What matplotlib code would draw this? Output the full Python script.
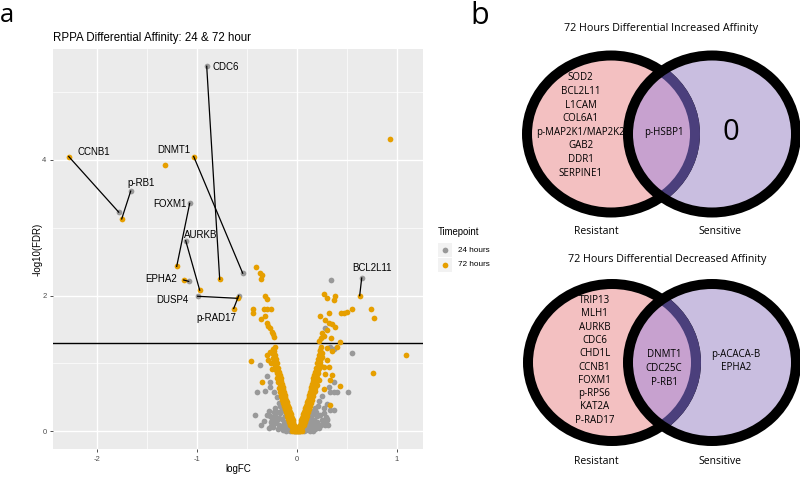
import matplotlib
matplotlib.use("Agg")
import matplotlib.pyplot as plt
from matplotlib.patches import Ellipse, Rectangle
import numpy as np

# ---------------- data: volcano ----------------
genes = ["CDC6", "CCNB1", "p-RB1", "DNMT1", "FOXM1", "AURKB", "EPHA2", "DUSP4", "p-RAD17", "BCL2L11"]
x24_lab = [-0.90, -1.78, -1.66, -0.54, -1.07, -1.11, -1.08, -0.99, -0.58, 0.65]
y24_lab = [5.38, 3.23, 3.54, 2.33, 3.36, 2.81, 2.21, 1.99, 2.00, 2.26]
x72_lab = [-0.77, -2.28, -1.75, -1.03, -1.20, -0.97, -1.13, -0.59, -0.63, 0.63]
y72_lab = [2.24, 4.05, 3.13, 4.05, 2.43, 2.08, 2.23, 1.96, 1.81, 2.00]
label_on = ["24", "72", "24", "72", "24", "24", "72", "24", "72", "24"]

# 24 hours, unlabelled proteins (logFC, -log10 FDR)
grey_sig = [(0.34, 2.23), (0.28, 1.52)]
grey_mid = [(-0.37, 0.98), (-0.40, 0.58), (-0.32, 0.60), (-0.27, 0.66), (-0.23, 0.58), (-0.30, 0.81),
            (-0.27, 0.73), (-0.20, 0.50), (-0.18, 0.42), (-0.22, 0.35), (0.51, 0.58), (0.33, 0.58),
            (0.37, 0.58), (0.40, 0.58), (0.55, 1.16), (0.37, 1.22), (0.32, 0.66), (0.37, 0.73),
            (0.30, 0.40), (0.27, 0.35), (0.22, 0.45), (0.25, 0.52), (0.30, 0.16), (0.33, 1.25)]
grey_bulk = [(-0.42, 0.24), (-0.30, 0.24), (-0.27, 0.22), (-0.25, 0.16), (-0.20, 0.29), (-0.17, 0.27),
             (-0.22, 0.12), (-0.18, 0.10), (-0.15, 0.18), (-0.13, 0.12), (-0.12, 0.22), (-0.10, 0.08),
             (-0.09, 0.15), (-0.08, 0.04), (-0.06, 0.10), (-0.05, 0.02), (-0.04, 0.06), (-0.03, 0.01),
             (-0.02, 0.03), (-0.01, 0.00), (0.00, 0.02), (0.01, 0.00), (0.02, 0.04), (0.03, 0.01),
             (0.04, 0.07), (0.05, 0.03), (0.06, 0.11), (0.07, 0.05), (0.08, 0.15), (0.09, 0.02),
             (0.10, 0.09), (0.11, 0.19), (0.12, 0.05), (0.13, 0.13), (0.14, 0.22), (0.15, 0.08),
             (0.17, 0.17), (0.18, 0.03), (0.19, 0.11), (0.21, 0.06), (0.23, 0.24), (0.27, 0.27),
             (0.30, 0.18), (0.33, 0.31), (0.37, 0.31), (-0.14, 0.02), (-0.11, 0.01), (-0.16, 0.06),
             (-0.19, 0.03), (0.16, 0.01), (0.13, 0.00), (-0.07, 0.00), (0.07, 0.00), (-0.20, 0.16),
             (0.20, 0.14), (-0.24, 0.06), (0.24, 0.09), (-0.12, 0.30), (0.10, 0.30), (-0.06, 0.20),
             (0.05, 0.18), (-0.26, 0.08), (-0.21, 0.20), (0.26, 0.12), (0.29, 0.21), (-0.28, 0.30),
             (0.31, 0.10), (-0.28, 0.05), (-0.26, 0.14), (-0.22, 0.22), (-0.16, 0.30), (-0.13, 0.05),
             (-0.11, 0.14), (-0.09, 0.25), (0.09, 0.25), (0.12, 0.28), (0.15, 0.15), (0.17, 0.25),
             (0.20, 0.22), (0.22, 0.05), (0.25, 0.16), (0.28, 0.09), (-0.33, 0.15), (-0.36, 0.10),
             (0.18, 0.35), (0.21, 0.38), (-0.17, 0.38), (-0.14, 0.35), (-0.08, 0.20), (0.08, 0.20),
             (-0.18, 0.20), (0.16, 0.30), (-0.23, 0.28), (0.19, 0.28)]

# 72 hours, unlabelled proteins
orange_far = [(-1.32, 3.93), (0.93, 4.31), (1.09, 1.125), (0.76, 0.855)]
orange_sig_left = [(-0.41, 2.42), (-0.37, 2.33), (-0.35, 2.31), (-0.36, 2.24), (-0.32, 2.00), (-0.30, 1.95),
                   (-0.44, 1.80), (-0.44, 1.74), (-0.33, 1.80), (-0.30, 1.80), (-0.26, 1.80), (-0.32, 1.70),
                   (-0.36, 1.65), (-0.30, 1.59), (-0.27, 1.52), (-0.25, 1.47), (-0.23, 1.39), (-0.29, 1.55),
                   (-0.24, 1.43)]
orange_sig_right = [(0.27, 2.03), (0.30, 1.96), (0.38, 2.00), (0.37, 1.93), (0.23, 1.70), (0.32, 1.74),
                    (0.28, 1.64), (0.32, 1.60), (0.35, 1.58), (0.38, 1.54), (0.27, 1.40), (0.34, 1.37),
                    (0.43, 1.32), (0.44, 1.74), (0.47, 1.74), (0.50, 1.76), (0.55, 1.80), (0.74, 1.80),
                    (0.77, 1.67), (0.25, 1.45), (0.30, 1.50), (0.22, 1.33), (0.24, 1.38)]
orange_scatter = [(-0.46, 1.03), (-0.35, 0.72), (-0.30, 1.12), (-0.27, 1.17), (-0.24, 1.21), (-0.22, 1.24),
                  (-0.29, 1.05), (-0.26, 1.00), (-0.25, 0.92), (0.23, 1.20), (0.25, 1.10), (0.24, 0.97),
                  (0.27, 0.95), (0.32, 0.95), (0.43, 0.67), (0.33, 0.39), (0.30, 1.23), (0.35, 1.18),
                  (0.40, 1.25), (0.28, 0.85), (0.35, 0.83), (0.33, 0.75), (0.30, 1.05), (0.27, 0.62)]
orange_left_arm = [(-0.01, 0.01), (-0.02, 0.04), (-0.02, 0.07), (-0.03, 0.10), (-0.04, 0.13), (-0.04, 0.16),
                   (-0.05, 0.19), (-0.06, 0.22), (-0.06, 0.25), (-0.07, 0.28), (-0.08, 0.31), (-0.08, 0.34),
                   (-0.09, 0.37), (-0.10, 0.40), (-0.10, 0.43), (-0.11, 0.46), (-0.12, 0.50), (-0.12, 0.54),
                   (-0.13, 0.58), (-0.14, 0.62), (-0.14, 0.66), (-0.15, 0.70), (-0.16, 0.74), (-0.16, 0.78),
                   (-0.17, 0.83), (-0.18, 0.88), (-0.19, 0.94), (-0.20, 1.00), (-0.21, 1.06), (-0.22, 1.12),
                   (-0.23, 1.18), (-0.05, 0.12), (-0.07, 0.18), (-0.09, 0.26), (-0.11, 0.33), (-0.12, 0.40),
                   (-0.14, 0.48), (-0.15, 0.55), (-0.16, 0.63), (-0.17, 0.70), (-0.19, 0.80), (-0.21, 0.90),
                   (-0.22, 0.98), (-0.24, 1.08), (-0.03, 0.05), (-0.06, 0.15), (-0.08, 0.22),
                   (-0.02, 0.00), (-0.04, 0.03), (-0.05, 0.06), (-0.07, 0.10), (-0.08, 0.14), (-0.09, 0.18),
                   (-0.10, 0.23), (-0.11, 0.28), (-0.12, 0.33), (-0.13, 0.37), (-0.14, 0.42), (-0.15, 0.46),
                   (-0.16, 0.52), (-0.17, 0.58), (-0.18, 0.64), (-0.19, 0.72), (-0.20, 0.78), (-0.20, 0.86),
                   (-0.22, 0.94), (-0.23, 1.02), (-0.25, 1.15)]
orange_right_arm = [(0.01, 0.01), (0.02, 0.04), (0.02, 0.07), (0.03, 0.10), (0.04, 0.13), (0.04, 0.16),
                    (0.05, 0.19), (0.06, 0.22), (0.06, 0.25), (0.07, 0.28), (0.08, 0.31), (0.08, 0.34),
                    (0.09, 0.37), (0.10, 0.40), (0.10, 0.43), (0.11, 0.46), (0.12, 0.50), (0.12, 0.54),
                    (0.13, 0.58), (0.14, 0.62), (0.14, 0.66), (0.15, 0.70), (0.16, 0.74), (0.16, 0.78),
                    (0.17, 0.83), (0.18, 0.88), (0.19, 0.94), (0.20, 1.00), (0.21, 1.06), (0.22, 1.12),
                    (0.23, 1.18), (0.24, 1.24), (0.05, 0.12), (0.07, 0.18), (0.09, 0.26), (0.11, 0.33),
                    (0.12, 0.40), (0.14, 0.48), (0.15, 0.55), (0.16, 0.63), (0.18, 0.70), (0.19, 0.80),
                    (0.21, 0.90), (0.22, 0.98), (0.24, 1.08), (0.03, 0.05), (0.06, 0.15), (0.08, 0.22),
                    (0.13, 0.44), (0.17, 0.66), (0.20, 0.85),
                    (0.02, 0.00), (0.04, 0.03), (0.05, 0.06), (0.07, 0.10), (0.08, 0.14), (0.09, 0.18),
                    (0.10, 0.23), (0.11, 0.28), (0.12, 0.33), (0.13, 0.37), (0.14, 0.42), (0.15, 0.46),
                    (0.16, 0.52), (0.17, 0.58), (0.18, 0.64), (0.19, 0.72), (0.20, 0.78), (0.21, 0.86),
                    (0.22, 0.94), (0.23, 1.02), (0.25, 1.15), (0.18, 0.60), (0.20, 0.68), (0.22, 0.76)]
orange_bottom = [(0.00, 0.00), (-0.03, 0.00), (0.03, 0.00), (-0.05, 0.01), (0.05, 0.01), (0.00, 0.03),
                 (-0.01, 0.06), (0.01, 0.06)]

fdr_threshold = 0.05
x_ticks = [-2, -1, 0, 1]
y_ticks = [0, 2, 4]
series_names = ["24 hours", "72 hours"]
series_colors = ["#999999", "#E69F00"]

# ---------------- data: venn ----------------
venn_titles = ["72 Hours Differential Increased Affinity", "72 Hours Differential Decreased Affinity"]
up_resistant = ["SOD2", "BCL2L11", "L1CAM", "COL6A1", "p-MAP2K1/MAP2K2", "GAB2", "DDR1", "SERPINE1"]
up_both = ["p-HSBP1"]
up_sensitive_count = "0"
down_resistant = ["TRIP13", "MLH1", "AURKB", "CDC6", "CHD1L", "CCNB1", "FOXM1", "p-RPS6", "KAT2A", "P-RAD17"]
down_both = ["DNMT1", "CDC25C", "P-RB1"]
down_sensitive = ["p-ACACA-B", "EPHA2"]
set_names = ["Resistant", "Sensitive"]

# ---------------- figure ----------------
W, H = 800, 479
fig = plt.figure(figsize=(W / 100, H / 100), dpi=100)
fig.patch.set_facecolor("white")
plt.rcParams["font.family"] = ["Liberation Sans", "DejaVu Sans"]

def px_rect(l, t, r, b):
    return [l / W, 1 - b / H, (r - l) / W, (b - t) / H]

ax = fig.add_axes(px_rect(52.7, 49.3, 423.3, 449.3))
ax.set_facecolor("#EBEBEB")
for s in ax.spines.values():
    s.set_visible(False)
ax.set_xlim(-2.44, 1.266)
ax.set_ylim(-0.265, 5.63)
ax.set_xticks(x_ticks)
ax.set_yticks(y_ticks)
ax.set_xticklabels([str(t) for t in x_ticks])
ax.set_yticklabels([str(t) for t in y_ticks])
ax.set_xticks([-1.5, -0.5, 0.5], minor=True)
ax.set_yticks([1, 3, 5], minor=True)
ax.grid(which="major", color="white", lw=1.0)
ax.grid(which="minor", color="white", lw=0.5)
ax.set_axisbelow(True)
ax.tick_params(which="major", length=2.5, width=0.6, color="#333333", labelsize=5.5,
               labelcolor="#4D4D4D", pad=2)
ax.tick_params(which="minor", length=0)
ax.set_xlabel("logFC", fontsize=7, labelpad=1)
ax.set_ylabel("-log10(FDR)", fontsize=7, labelpad=0)

ax.axhline(-np.log10(fdr_threshold), color="black", lw=1.0, zorder=2)

ms = 17
def pts(groups):
    arr = np.array([p for g in groups for p in g])
    return arr[:, 0], arr[:, 1]

gx, gy = pts([grey_sig, grey_mid, grey_bulk])
ox, oy = pts([orange_far, orange_sig_left, orange_sig_right, orange_scatter,
              orange_left_arm, orange_right_arm, orange_bottom])
ax.scatter(gx, gy, s=ms, color=series_colors[0], lw=0, zorder=3)
ax.scatter(ox, oy, s=ms, color=series_colors[1], lw=0, zorder=3)
ax.scatter(x24_lab, y24_lab, s=ms, color=series_colors[0], lw=0, zorder=3)
ax.scatter(x72_lab, y72_lab, s=ms, color=series_colors[1], lw=0, zorder=3)
for i in range(len(genes)):
    ax.plot([x24_lab[i], x72_lab[i]], [y24_lab[i], y72_lab[i]], color="black", lw=0.9, zorder=4)

label_offsets = {
    "CDC6": (0.06, -0.01), "CCNB1": (0.09, 0.07), "p-RB1": (-0.03, 0.12),
    "DNMT1": (-0.36, 0.09), "FOXM1": (-0.36, -0.01), "AURKB": (-0.02, 0.09),
    "EPHA2": (-0.38, 0.02), "DUSP4": (-0.41, -0.06), "p-RAD17": (-0.37, -0.14),
    "BCL2L11": (-0.09, 0.14),
}
for i, g in enumerate(genes):
    px_, py_ = (x24_lab[i], y24_lab[i]) if label_on[i] == "24" else (x72_lab[i], y72_lab[i])
    dx, dy = label_offsets[g]
    ax.text(px_ + dx, py_ + dy, g, fontsize=7, ha="left", va="center", zorder=5)

# overlay axis in pixel coordinates
lax = fig.add_axes([0, 0, 1, 1], facecolor="none")
lax.set_xlim(0, W)
lax.set_ylim(H, 0)
lax.axis("off")

lax.text(53, 37.7, "RPPA Differential Affinity: 24 & 72 hour", fontsize=8.3, ha="left", va="center")

# legend
lax.text(438, 232, "Timepoint", fontsize=6.9, ha="left", va="center")
for k, (nm, col) in enumerate(zip(series_names, series_colors)):
    yy = 250 + k * 14.7
    lax.add_patch(Rectangle((438, yy - 7), 14, 14, facecolor="#F2F2F2", edgecolor="none", zorder=1))
    lax.scatter([445], [yy], s=ms, color=col, lw=0, zorder=2)
    lax.text(458, yy, nm, fontsize=5.9, ha="left", va="center")

# ---------------- venn diagrams ----------------
PINK = "#F3C0C1"
LAV = "#C9BEE0"
PURP = "#C7A1CF"
NAVY = "#4B3F7C"
ring_lw = 7.2
ew, eh = 168, 157

def venn(cy, lcx, rcx):
    lax.add_patch(Ellipse((rcx, cy), ew, eh, facecolor=LAV, edgecolor="none", zorder=1))
    lax.add_patch(Ellipse((lcx, cy), ew, eh, facecolor=PINK, edgecolor="black", lw=ring_lw, zorder=2))
    clip = Ellipse((rcx, cy), ew, eh, transform=lax.transData)
    ov = Ellipse((lcx, cy), ew, eh, facecolor=PURP, edgecolor="none", zorder=3)
    lax.add_patch(ov)
    ov.set_clip_path(clip)
    nav = Ellipse((lcx, cy), ew, eh, facecolor="none", edgecolor=NAVY, lw=ring_lw, zorder=4)
    lax.add_patch(nav)
    nav.set_clip_path(clip)
    lax.add_patch(Ellipse((rcx, cy), ew, eh, facecolor="none", edgecolor="black", lw=ring_lw, zorder=5))

vfont = ["Open Sans", "DejaVu Sans"]
venn(134, 611, 712)
venn(362.5, 612, 712)

lax.text(661, 28, venn_titles[0], fontsize=7.75, ha="center", va="center", family=vfont, zorder=6)
lax.text(667, 259.5, venn_titles[1], fontsize=7.75, ha="center", va="center", family=vfont, zorder=6)

fs = 7.0
for i, t in enumerate(up_resistant):
    lax.text(580.5, 77.8 + i * 13.6, t, fontsize=fs, ha="center", va="center", family=vfont, zorder=6)
lax.text(664, 133, up_both[0], fontsize=fs, ha="center", va="center", family=vfont, zorder=6)
lax.text(731, 132, up_sensitive_count, fontsize=21, ha="center", va="center", family=vfont, zorder=6)

for i, t in enumerate(down_resistant):
    lax.text(594.5, 300.5 + i * 13.3, t, fontsize=fs, ha="center", va="center", family=vfont, zorder=6)
for i, t in enumerate(down_both):
    lax.text(664, 354.5 + i * 13.8, t, fontsize=fs, ha="center", va="center", family=vfont, zorder=6)
for i, t in enumerate(down_sensitive):
    lax.text(736, 354.5 + i * 13.5, t, fontsize=fs, ha="center", va="center", family=vfont, zorder=6)

for cy in (231.7, 461.7):
    lax.text(596, cy, set_names[0], fontsize=7.5, ha="center", va="center", family=vfont, zorder=6)
    lax.text(720, cy, set_names[1], fontsize=7.5, ha="center", va="center", family=vfont, zorder=6)

lax.text(0, 3, "a", fontsize=18.5, ha="left", va="top", family=vfont)
lax.text(470, 0.5, "b", fontsize=22, ha="left", va="top", family=vfont)

fig.savefig("out.png", dpi=100)
